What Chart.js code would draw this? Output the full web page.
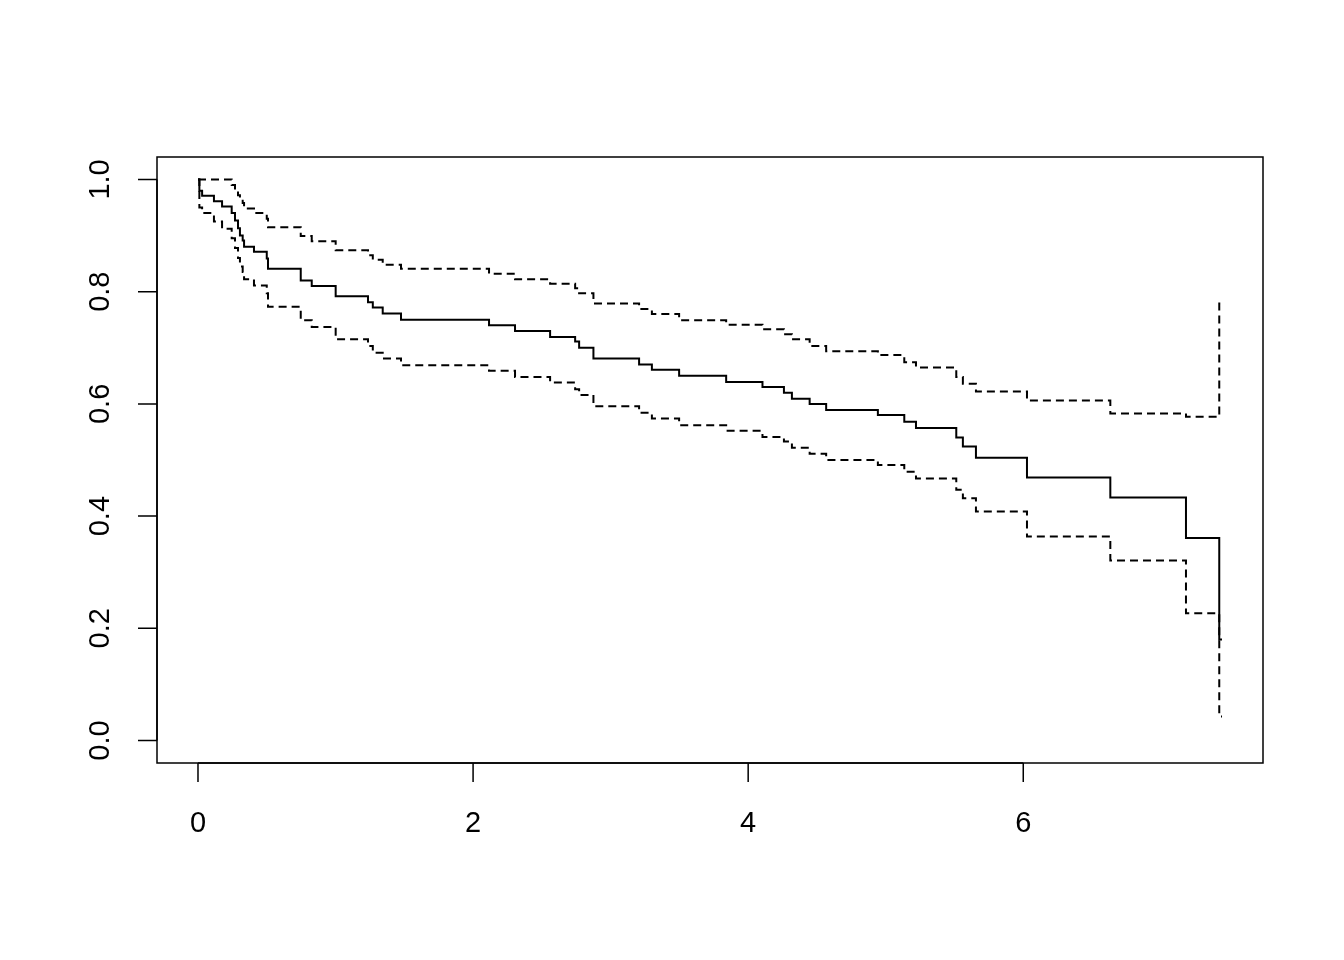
<!DOCTYPE html>
<html>
<head>
<meta charset="utf-8">
<script src="https://cdn.jsdelivr.net/npm/chart.js@4/dist/chart.umd.min.js"></script>
<style>
  body { margin: 0; background: #fff; }
  #wrap { width: 1344px; height: 960px; }
</style>
</head>
<body>
<div id="wrap"><canvas id="myChart" width="1344" height="960"></canvas></div>
<script>
// survival estimate and confidence limits, value after each time
const times = [0, 0.01, 0.03, 0.116, 0.175, 0.245, 0.269, 0.291, 0.305, 0.325, 0.335, 0.407, 0.5, 0.509, 0.747, 0.827, 1.001, 1.236, 1.271, 1.343, 1.476, 2.116, 2.305, 2.56, 2.742, 2.771, 2.875, 3.207, 3.30, 3.498, 3.84, 4.104, 4.26, 4.318, 4.447, 4.567, 4.943, 5.135, 5.22, 5.513, 5.561, 5.656, 6.027, 6.633, 7.183, 7.425, 7.445];
const surv = [1, 0.98, 0.971, 0.961, 0.952, 0.940, 0.927, 0.913, 0.900, 0.891, 0.880, 0.871, 0.859, 0.841, 0.820, 0.810, 0.792, 0.781, 0.772, 0.761, 0.750, 0.740, 0.730, 0.719, 0.711, 0.700, 0.681, 0.670, 0.661, 0.650, 0.639, 0.630, 0.620, 0.609, 0.600, 0.589, 0.580, 0.568, 0.557, 0.540, 0.524, 0.504, 0.469, 0.433, 0.361, 0.180, 0.180];
const upper = [1, 1, 1, 1, 1, 0.99, 0.982, 0.972, 0.965, 0.958, 0.948, 0.94, 0.93, 0.915, 0.899, 0.890, 0.874, 0.865, 0.857, 0.848, 0.841, 0.832, 0.822, 0.814, 0.806, 0.797, 0.779, 0.769, 0.760, 0.749, 0.741, 0.733, 0.724, 0.715, 0.703, 0.694, 0.687, 0.674, 0.665, 0.648, 0.636, 0.622, 0.606, 0.583, 0.577, 0.779, 0.779];
const lower = [1, 0.95, 0.94, 0.925, 0.912, 0.895, 0.878, 0.86, 0.845, 0.835, 0.822, 0.811, 0.797, 0.773, 0.749, 0.737, 0.715, 0.703, 0.691, 0.681, 0.669, 0.659, 0.648, 0.638, 0.626, 0.616, 0.596, 0.584, 0.574, 0.562, 0.552, 0.541, 0.533, 0.522, 0.511, 0.500, 0.491, 0.479, 0.467, 0.447, 0.432, 0.408, 0.3635, 0.321, 0.227, 0.043, 0.043];

const xTicks = [0, 2, 4, 6];
const yTicks = [0, 0.2, 0.4, 0.6, 0.8, 1.0];
const yTickLabels = ["0.0", "0.2", "0.4", "0.6", "0.8", "1.0"];

const pts = (ys) => times.map((t, i) => ({ x: t, y: ys[i] }));
const font = "29px 'Liberation Sans', Arial, sans-serif";

// R style box, axes and labels
const baseAxes = {
  id: "baseAxes",
  afterDraw(chart) {
    const ctx = chart.ctx;
    const a = chart.chartArea;
    const xs = chart.scales.x, ys = chart.scales.y;
    ctx.save();
    ctx.strokeStyle = "#000";
    ctx.fillStyle = "#000";
    ctx.lineWidth = 1.5;
    ctx.strokeRect(a.left, a.top, a.right - a.left, a.bottom - a.top);

    // x axis
    const x0 = xs.getPixelForValue(xTicks[0]);
    const x1 = xs.getPixelForValue(xTicks[xTicks.length - 1]);
    ctx.beginPath();
    ctx.moveTo(x0, a.bottom); ctx.lineTo(x1, a.bottom);
    xTicks.forEach(v => {
      const px = xs.getPixelForValue(v);
      ctx.moveTo(px, a.bottom); ctx.lineTo(px, a.bottom + 19);
    });
    // y axis
    const y0 = ys.getPixelForValue(yTicks[0]);
    const y1 = ys.getPixelForValue(yTicks[yTicks.length - 1]);
    ctx.moveTo(a.left, y0); ctx.lineTo(a.left, y1);
    yTicks.forEach(v => {
      const py = ys.getPixelForValue(v);
      ctx.moveTo(a.left, py); ctx.lineTo(a.left - 19, py);
    });
    ctx.stroke();

    ctx.font = font;
    ctx.textAlign = "center";
    ctx.textBaseline = "middle";
    xTicks.forEach(v => {
      ctx.fillText(String(v), xs.getPixelForValue(v), a.bottom + 61);
    });
    yTicks.forEach((v, i) => {
      ctx.save();
      ctx.translate(a.left - 56, ys.getPixelForValue(v));
      ctx.rotate(-Math.PI / 2);
      ctx.fillText(yTickLabels[i], 0, 0);
      ctx.restore();
    });
    ctx.restore();
  }
};

new Chart("myChart", {
  type: "scatter",
  data: {
    datasets: [
      { data: pts(surv), borderColor: "#000", borderWidth: 2, showLine: true, stepped: true, pointRadius: 0 },
      { data: pts(upper), borderColor: "#000", borderWidth: 2, borderDash: [8, 5], showLine: true, stepped: true, pointRadius: 0 },
      { data: pts(lower), borderColor: "#000", borderWidth: 2, borderDash: [8, 5], showLine: true, stepped: true, pointRadius: 0 },
    ],
  },
  options: {
    responsive: false,
    animation: false,
    layout: { padding: { left: 157, top: 157, right: 81, bottom: 197 } },
    plugins: { legend: { display: false }, tooltip: { enabled: false } },
    scales: {
      x: { type: "linear", min: -0.298, max: 7.743, display: false },
      y: { type: "linear", min: -0.04, max: 1.04, display: false },
    },
  },
  plugins: [baseAxes],
});
</script>
</body>
</html>
